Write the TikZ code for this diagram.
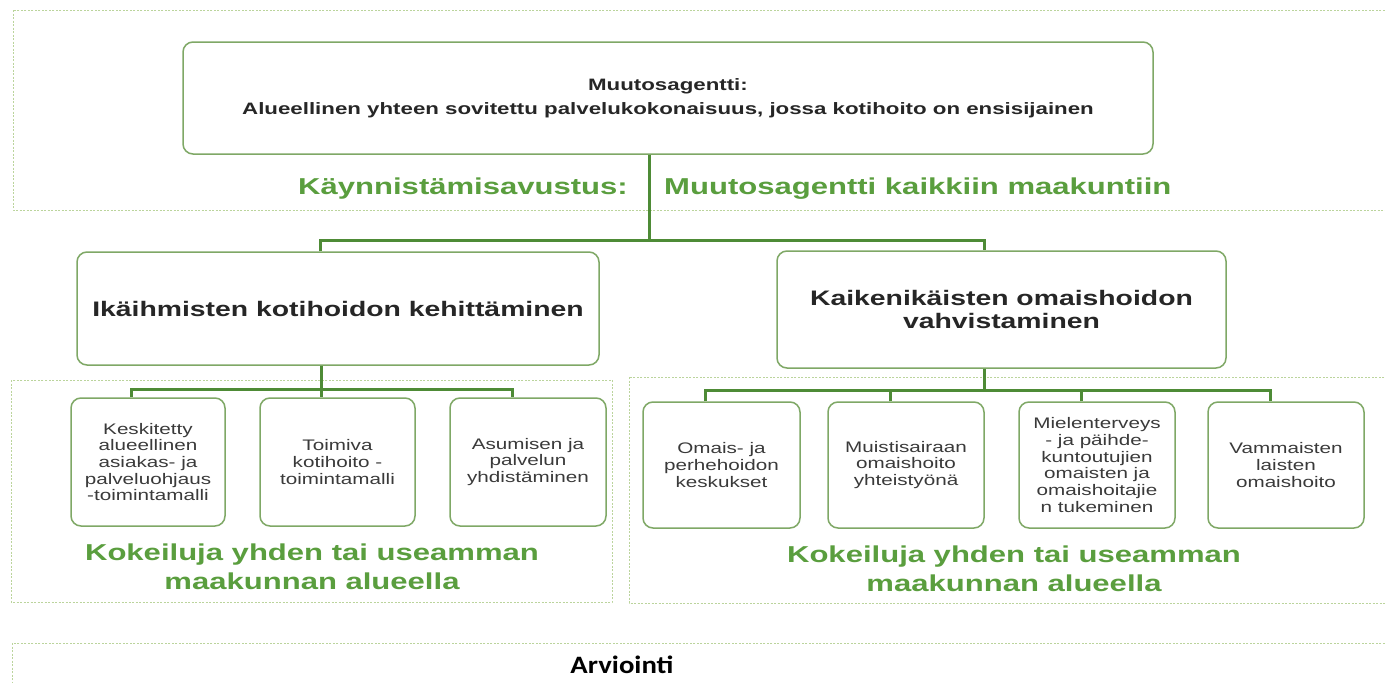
\documentclass[tikz,border=0pt]{standalone}
\usepackage{fontspec}
\setmainfont{Liberation Sans}[FakeStretch=1.35]
\newfontfamily\arvfont{Carlito}[FakeStretch=1.15]
\usetikzlibrary{calc}
\definecolor{conncol}{HTML}{4E8B36}
\definecolor{boxcol}{HTML}{7FA866}
\definecolor{dashcol}{HTML}{BBD49C}
\definecolor{gtext}{HTML}{5A9E3E}
\definecolor{dtext}{HTML}{262626}
\definecolor{stext}{HTML}{3A3A3A}
\begin{document}
\begin{tikzpicture}[x=1pt,y=-1pt,
  rbox/.style={draw=boxcol, line width=1.5pt, rounded corners=10pt, fill=white, inner sep=0pt, align=center},
  zone/.style={draw=dashcol, line width=1pt, dash pattern=on 2pt off 1.5pt},
  connline/.style={draw=conncol, line width=3pt},
  smallbox/.style={rbox, minimum width=155pt, minimum height=127pt, text=stext, font=\fontsize{15.3}{16.7}\selectfont},
  greenlab/.style={text=gtext, inner sep=0pt, align=center, font=\bfseries\fontsize{23}{29}\selectfont},
  ]
\useasboundingbox (0,0) rectangle (1385,683);
\clip (0,0) rectangle (1385,683);
\fill[white] (0,0) rectangle (1385,683);

% dashed zones
\draw[zone] (13,10) rectangle (1400,210);
\draw[zone] (11,380) rectangle (612,602);
\draw[zone] (629,377) rectangle (1400,603);
\draw[zone] (12,643) rectangle (1400,720);

% main boxes
\node[rbox, minimum width=970pt, minimum height=112pt, text=dtext,
      font=\bfseries\fontsize{16.5}{24}\selectfont] (top) at (668,98)
  {Muutosagentti:\\Alueellinen yhteen sovitettu palvelukokonaisuus, jossa kotihoito on ensisijainen};

\node[rbox, minimum width=522pt, minimum height=113pt, text=dtext,
      font=\bfseries\fontsize{21}{23}\selectfont] (left) at (338,308.5)
  {Ikäihmisten kotihoidon kehittäminen};

\node[rbox, minimum width=449pt, minimum height=117pt, text=dtext,
      font=\bfseries\fontsize{21}{23}\selectfont] (right) at (1001.5,309.5)
  {Kaikenikäisten omaishoidon\\vahvistaminen};

% small boxes left
\node[smallbox, minimum width=154pt, minimum height=128pt] (l1) at (148,462)
  {Keskitetty\\alueellinen\\asiakas- ja\\palveluohjaus\\-toimintamalli};
\node[smallbox, minimum width=155pt, minimum height=128pt] (l2) at (337.5,462)
  {Toimiva\\kotihoito -\\toimintamalli};
\node[smallbox, minimum width=156pt, minimum height=128pt] (l3) at (528,462)
  {Asumisen ja\\palvelun\\yhdistäminen};

% small boxes right
\node[smallbox, minimum width=157pt, minimum height=126pt] (r1) at (721.5,465)
  {Omais- ja\\perhehoidon\\keskukset};
\node[smallbox, minimum width=156pt, minimum height=126pt] (r2) at (906,465)
  {Muistisairaan\\omaishoito\\yhteistyönä};
\node[smallbox, minimum width=156pt, minimum height=126pt] (r3) at (1097,465)
  {Mielenterveys\\- ja päihde-\\kuntoutujien\\omaisten ja\\omaishoitajie\\n tukeminen};
\node[smallbox, minimum width=156pt, minimum height=126pt] (r4) at (1286,465)
  {Vammaisten\\laisten\\omaishoito};

% connectors
\coordinate (hub1) at (649,240);
\coordinate (hub2) at (321,389);
\coordinate (hub3) at (984,390);
\draw[connline] (top.south -| hub1) -- (hub1);
\draw[connline] ([xshift=-18pt]left.north) |- (hub1) -| ([xshift=-17.5pt]right.north);
\draw[connline] ([xshift=-17pt]left.south) -- (hub2);
\draw[connline] ([xshift=-17pt]l1.north) |- (hub2) -| ([xshift=-16pt]l3.north);
\draw[connline] (hub2) -- (l2.north -| hub2);
\draw[connline] ([xshift=-17.5pt]right.south) -- (hub3);
\draw[connline] ([xshift=-16pt]r1.north) |- (hub3) -| ([xshift=-16pt]r4.north);
\draw[connline] ([xshift=-16pt]r2.north) -- ++(0,-12);
\draw[connline] ([xshift=-16pt]r3.north) -- ++(0,-12);

% green labels
\node[greenlab, anchor=east] (k1) at (628,189) {Käynnistämisavustus:};
\node[greenlab, anchor=west] (k2) at (664,189) {Muutosagentti\ kaikkiin\ maakuntiin};
\node[greenlab] (lab1) at (312,567) {Kokeiluja\ yhden\ tai\ useamman\\maakunnan\ alueella};
\node[greenlab] (lab2) at (1014,569) {Kokeiluja\ yhden\ tai\ useamman\\maakunnan\ alueella};

% evaluation
\node[inner sep=0pt, text=black, font=\arvfont\bfseries\fontsize{25}{28}\selectfont] (arv) at (622,665) {Arviointi};
\end{tikzpicture}
\end{document}
